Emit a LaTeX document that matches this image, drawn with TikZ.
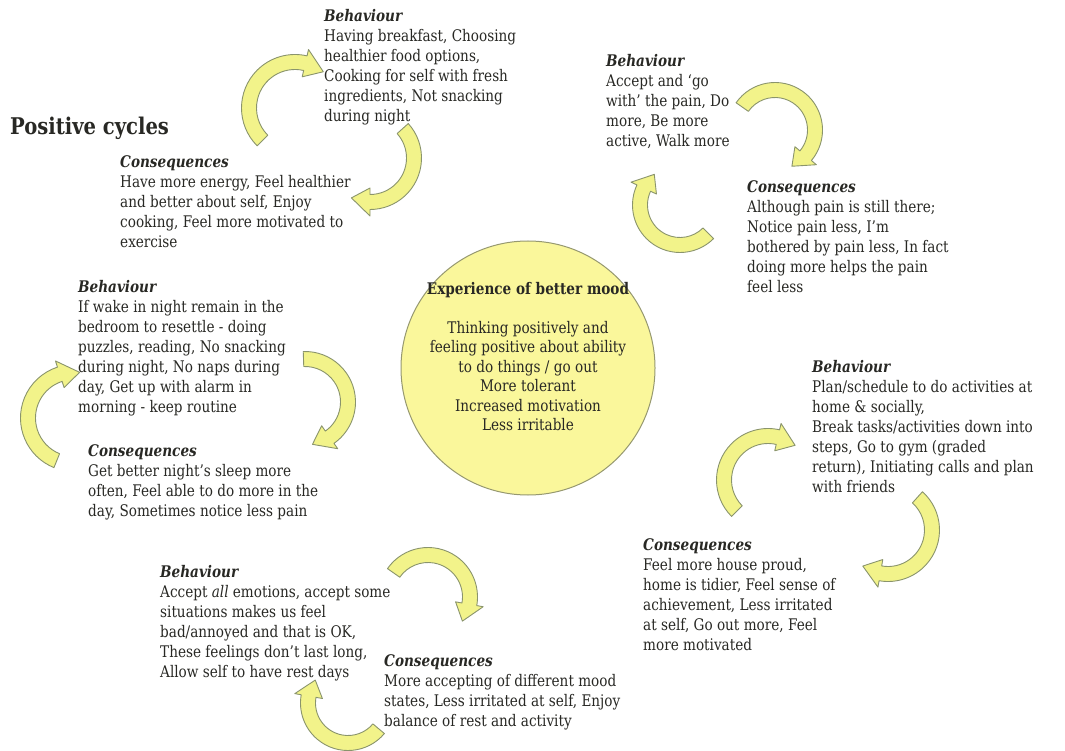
\documentclass[tikz,border=0pt]{standalone}
\usepackage{fontspec}
\setmainfont{DejaVu Serif}[FakeStretch=0.85]

\definecolor{inkcol}{RGB}{40,40,36}
\definecolor{moodfill}{RGB}{250,247,155}
\definecolor{moodline}{RGB}{150,152,112}
\definecolor{arrowfill}{RGB}{242,243,138}
\definecolor{arrowline}{RGB}{138,148,108}

% Curved block arrow: centre (#1,#2), radius #3, band from angle #4 to #5,
% arrow tip at angle #6 (angles run clockwise on the page).
\newcommand\cycarrow[6]{%
  \draw[cyclearrow, shift={(#1,#2)}]
    ({#4}:{#3+7.5}) arc[start angle=#4, end angle=#5, radius={#3+7.5}]
    -- ({#5}:{#3+14}) -- ({#6}:{#3}) -- ({#5}:{#3-14})
    -- ({#5}:{#3-7.5}) arc[start angle=#5, end angle=#4, radius={#3-7.5}]
    -- cycle;}

\newcommand\heading[1]{\textbf{\textit{#1}}}

\begin{document}
\begin{tikzpicture}[x=1pt, y=-1pt,
  cyclearrow/.style={fill=arrowfill, draw=arrowline, line width=0.9pt, line join=round},
  txt/.style={anchor=north west, inner sep=0pt, align=left,
    font=\fontsize{16}{20}\selectfont, text=inkcol},
  moodtxt/.style={anchor=north, inner sep=0pt, align=center,
    font=\fontsize{16}{19.5}\selectfont, text=inkcol}]

\useasboundingbox (0,0) rectangle (1065,751);
\fill[white] (0,0) rectangle (1065,751);

% title
\node[anchor=west, inner sep=0pt, font=\fontsize{23}{27}\selectfont\bfseries, text=inkcol]
  (title) at (10,128) {Positive cycles};

% central circle
\node[circle, minimum size=254pt, fill=moodfill, draw=moodline, line width=1pt]
  (mood) at (528,368) {};
\node[moodtxt] (moodtext) at (528,280.5) {\strut\textbf{Experience of better mood}\\[19.5pt]
  Thinking positively and\\ feeling positive about ability\\ to do things / go out\\
  More tolerant\\ Increased motivation\\ Less irritable};

% cycle 1: eating
\node[txt] (b1) at (324,7.5) {\strut\heading{Behaviour}\\ Having breakfast, Choosing\\
  healthier food options,\\ Cooking for self with fresh\\ ingredients, Not snacking\\ during night};
\node[txt] (c1) at (120,153.5) {\strut\heading{Consequences}\\ Have more energy, Feel healthier\\
  and better about self, Enjoy\\ cooking, Feel more motivated to\\ exercise};
\cycarrow{295}{108}{46}{135}{283}{308}
\cycarrow{370}{158}{44}{318}{450}{475}

% cycle 2: pain
\node[txt] (b2) at (606,52.5) {\strut\heading{Behaviour}\\ Accept and ‘go\\
  with’ the pain, Do\\ more, Be more\\ active, Walk more};
\node[txt] (c2) at (747,178.5) {\strut\heading{Consequences}\\ Although pain is still there;\\
  Notice pain less, I’m\\ bothered by pain less, In fact\\ doing more helps the pain\\ feel less};
\cycarrow{775}{130}{40}{215}{400}{425}
\cycarrow{680}{205}{40}{45}{205}{230}

% cycle 3: sleep
\node[txt] (b3) at (78,278.5) {\strut\heading{Behaviour}\\ If wake in night remain in the\\
  bedroom to resettle - doing\\ puzzles, reading, No snacking\\ during night, No naps during\\
  day, Get up with alarm in\\ morning - keep routine};
\node[txt] (c3) at (88,442.5) {\strut\heading{Consequences}\\ Get better night’s sleep more\\
  often, Feel able to do more in the\\ day, Sometimes notice less pain};
\cycarrow{74}{418}{46}{112}{252}{277}
\cycarrow{305}{402}{43}{268}{415}{440}

% cycle 4: activity
\node[txt] (b4) at (812,358.5) {\strut\heading{Behaviour}\\ Plan/schedule to do activities at\\
  home \& socially,\\ Break tasks/activities down into\\ steps, Go to gym (graded\\
  return), Initiating calls and plan\\ with friends};
\node[txt] (c4) at (643,536.5) {\strut\heading{Consequences}\\ Feel more house proud,\\
  home is tidier, Feel sense of\\ achievement, Less irritated\\ at self, Go out more, Feel\\ more motivated};
\cycarrow{768}{480}{44}{135}{283}{308}
\cycarrow{888}{530}{44}{312}{460}{485}

% cycle 5: emotions
\node[txt] (b5) at (160,563.5) {\strut\heading{Behaviour}\\ Accept \textit{all} emotions, accept some\\
  situations makes us feel\\ bad/annoyed and that is OK,\\ These feelings don’t last long,\\
  Allow self to have rest days};
\node[txt] (c5) at (384,652.5) {\strut\heading{Consequences}\\ More accepting of different mood\\
  states, Less irritated at self, Enjoy\\ balance of rest and activity};
\cycarrow{428}{597}{42}{215}{370}{395}
\cycarrow{348}{703}{40}{40}{190}{215}

\end{tikzpicture}
\end{document}
